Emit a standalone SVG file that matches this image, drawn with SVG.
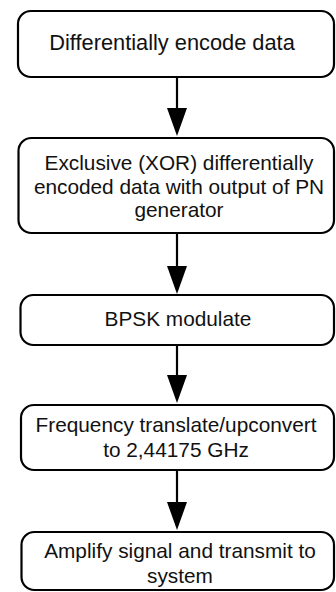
<svg xmlns="http://www.w3.org/2000/svg" width="336" height="592" viewBox="0 0 336 592">
  <style>
    .box { fill: #ffffff; stroke: #000000; stroke-width: 2.2; }
    .lbl { font-family: "Liberation Sans", Arial, sans-serif; font-size: 20.8px; fill: #111111; text-anchor: middle; }
    .big { font-size: 21.8px; }
    .conn { stroke: #000000; stroke-width: 2.2; fill: none; }
    .head { fill: #000000; stroke: none; }
  </style>
  <rect width="336" height="592" fill="#ffffff"/>

  <g id="encode">
    <rect class="box" x="18" y="11" width="316" height="66" rx="13" ry="13"/>
    <text class="lbl big" x="172" y="50">Differentially encode data</text>
  </g>

  <g id="xor">
    <rect class="box" x="18.5" y="138" width="315.5" height="95" rx="13" ry="13"/>
    <text class="lbl" x="179" y="170">Exclusive (XOR) differentially</text>
    <text class="lbl" x="179" y="193.5">encoded data with output of PN</text>
    <text class="lbl" x="179" y="217">generator</text>
  </g>

  <g id="bpsk">
    <rect class="box" x="20.5" y="295" width="313.5" height="50" rx="13" ry="13"/>
    <text class="lbl" x="178" y="326">BPSK modulate</text>
  </g>

  <g id="upconvert">
    <rect class="box" x="21" y="405" width="313" height="65" rx="13" ry="13"/>
    <text class="lbl" x="176" y="432">Frequency translate/upconvert</text>
    <text class="lbl" x="176" y="457">to 2,44175 GHz</text>
  </g>

  <g id="transmit">
    <rect class="box" x="21.5" y="532" width="312.5" height="58" rx="13" ry="13"/>
    <text class="lbl" x="180" y="558">Amplify signal and transmit to</text>
    <text class="lbl" x="180" y="583">system</text>
  </g>

  <g id="connectors">
    <line class="conn" x1="177" y1="77" x2="177" y2="110"/>
    <polygon class="head" points="167,108 187,108 177,136"/>
    <line class="conn" x1="177" y1="233" x2="177" y2="268"/>
    <polygon class="head" points="167,266 187,266 177,294"/>
    <line class="conn" x1="177" y1="345" x2="177" y2="377"/>
    <polygon class="head" points="167,375 187,375 177,403"/>
    <line class="conn" x1="177" y1="470" x2="177" y2="504"/>
    <polygon class="head" points="167,502 187,502 177,530"/>
  </g>
</svg>
